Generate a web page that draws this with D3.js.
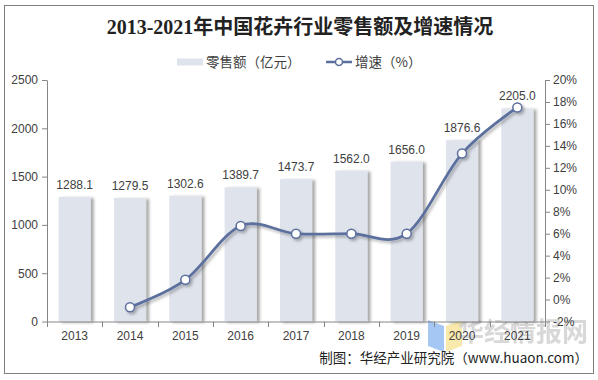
<!DOCTYPE html>
<html><head><meta charset="utf-8">
<script src="https://cdn.jsdelivr.net/npm/d3@7"></script>
<style>body{margin:0;background:#fff}svg{display:block}</style>
</head><body>
<svg id="c" width="598" height="380"></svg>
<script>
const years = ["2013","2014","2015","2016","2017","2018","2019","2020","2021"];
const sales = [1288.1,1279.5,1302.6,1389.7,1473.7,1562.0,1656.0,1876.6,2205.0];
const growth = [null,-0.7,1.8,6.7,6.0,6.0,6.0,13.3,17.5];
const leftTicks = [0,500,1000,1500,2000,2500];
const rightTicks = [-2,0,2,4,6,8,10,12,14,16,18,20];

const svg = d3.select("#c");
const latin = "'Liberation Sans', Arial, 'Noto Sans CJK SC', sans-serif";
const cjk = "'Noto Sans CJK SC', sans-serif";
const axisColor = "#868686", textColor = "#404040", lineColor = "#5b6f9d", barColor = "#dfe3ec";

const defs = svg.append("defs");
const f = defs.append("filter").attr("id","sh").attr("x","-30%").attr("y","-10%").attr("width","160%").attr("height","130%");
f.append("feDropShadow").attr("dx",3).attr("dy",1).attr("stdDeviation",1.6).attr("flood-color","#000").attr("flood-opacity",0.35);
const f2 = defs.append("filter").attr("id","sh2").attr("x","-10%").attr("y","-10%").attr("width","130%").attr("height","130%");
f2.append("feDropShadow").attr("dx",2).attr("dy",2).attr("stdDeviation",1.5).attr("flood-color","#000").attr("flood-opacity",0.3);

// frame
svg.append("rect").attr("x",4.5).attr("y",5.5).attr("width",589).attr("height",368)
  .attr("fill","#fff").attr("stroke","#7f7f7f").attr("stroke-width",1);

const x = d3.scaleBand().domain(years).range([47,545]).paddingInner(0.42).paddingOuter(0.21);
const xb = d3.scaleBand().domain(years).range([47,545]);
const y = d3.scaleLinear().domain([0,2500]).range([321.5,80]);
const y2 = d3.scaleLinear().domain([-2,20]).range([321.5,80]);

// title
svg.append("text").attr("x",300).attr("y",34).attr("text-anchor","middle")
  .attr("font-family","'Liberation Serif','Noto Sans CJK SC',serif").attr("font-weight","bold")
  .attr("font-size",20).attr("fill","#222").text("2013-2021年中国花卉行业零售额及增速情况");

// legend
svg.append("rect").attr("x",177).attr("y",58.5).attr("width",26).attr("height",7).attr("fill",barColor);
svg.append("text").attr("x",206).attr("y",67).attr("font-family",cjk).attr("font-size",13.5).attr("fill",textColor).text("零售额（亿元）");
svg.append("line").attr("x1",326).attr("x2",352).attr("y1",62).attr("y2",62).attr("stroke",lineColor).attr("stroke-width",2.5);
svg.append("circle").attr("cx",339).attr("cy",62).attr("r",3.5).attr("fill","#fff").attr("stroke",lineColor).attr("stroke-width",1.5);
svg.append("text").attr("x",355).attr("y",67).attr("font-family",cjk).attr("font-size",13.5).attr("fill",textColor).text("增速（%）");

// watermark logo
const wm = svg.append("g").attr("opacity",0.7);
wm.append("path").attr("d","M428,320 L444,326 L444,352 L428,346 Z").attr("fill","#7fb0f0");
wm.append("path").attr("d","M446,326 L462,320 L462,346 L446,352 Z").attr("fill","#f7e08a");
svg.append("text").attr("x",588).attr("y",341).attr("text-anchor","end").attr("font-family",cjk)
  .attr("font-weight","bold").attr("font-size",26).attr("fill","#cfcfcf").attr("opacity",0.8).text("华经情报网");

// bars
svg.append("g").selectAll("rect").data(years).join("rect")
  .attr("x",d=>x(d)).attr("width",x.bandwidth())
  .attr("y",(d,i)=>y(sales[i])).attr("height",(d,i)=>y(0)-y(sales[i]))
  .attr("fill",barColor).attr("filter","url(#sh)");

// bar labels
svg.append("g").selectAll("text").data(years).join("text")
  .attr("x",d=>xb(d)+xb.bandwidth()/2).attr("y",(d,i)=>y(sales[i])-8)
  .attr("text-anchor","middle").attr("font-family",latin).attr("font-size",12).attr("fill",textColor)
  .text((d,i)=>sales[i].toFixed(1));

// axes
const gl = svg.append("g").attr("transform","translate(47,0)")
  .call(d3.axisLeft(y).tickValues(leftTicks).tickSize(5).tickSizeOuter(0).tickPadding(4).tickFormat(d3.format("d")));
const gr = svg.append("g").attr("transform","translate(545,0)")
  .call(d3.axisRight(y2).tickValues(rightTicks).tickSize(5).tickSizeOuter(0).tickPadding(3).tickFormat(d=>d+"%"));
const gb = svg.append("g").attr("transform","translate(0,321.5)")
  .call(d3.axisBottom(xb).tickSize(0).tickPadding(10));
gb.selectAll(".tick line").remove();
// category boundary ticks
svg.append("g").selectAll("line").data(years.concat(["end"])).join("line")
  .attr("x1",(d,i)=>Math.round(47+i*xb.step())+0.5).attr("x2",(d,i)=>Math.round(47+i*xb.step())+0.5)
  .attr("y1",321.5).attr("y2",327).attr("stroke",axisColor);
[gl,gr,gb].forEach(g=>{
  g.select(".domain").attr("stroke",axisColor);
  g.selectAll(".tick line").attr("stroke",axisColor);
  g.selectAll("text").attr("font-family",latin).attr("font-size",12).attr("fill",textColor);
});

// line
const pts = years.map((d,i)=>({x:xb(d)+xb.bandwidth()/2, v:growth[i]})).filter(p=>p.v!==null);
const line = d3.line().x(p=>p.x).y(p=>y2(p.v)).curve(d3.curveCardinal.tension(0));
const lg = svg.append("g").attr("filter","url(#sh2)");
lg.append("path").attr("d",line(pts)).attr("fill","none").attr("stroke",lineColor).attr("stroke-width",2.75);
lg.selectAll("circle").data(pts).join("circle").attr("cx",p=>p.x).attr("cy",p=>y2(p.v)).attr("r",4.5)
  .attr("fill","#fff").attr("stroke",lineColor).attr("stroke-width",1.5);

// footer
svg.append("text").attr("x",588).attr("y",363).attr("text-anchor","end").attr("font-family",cjk)
  .attr("font-size",13.5).attr("fill","#222").text("制图：华经产业研究院（www.huaon.com）");
</script>
</body></html>
